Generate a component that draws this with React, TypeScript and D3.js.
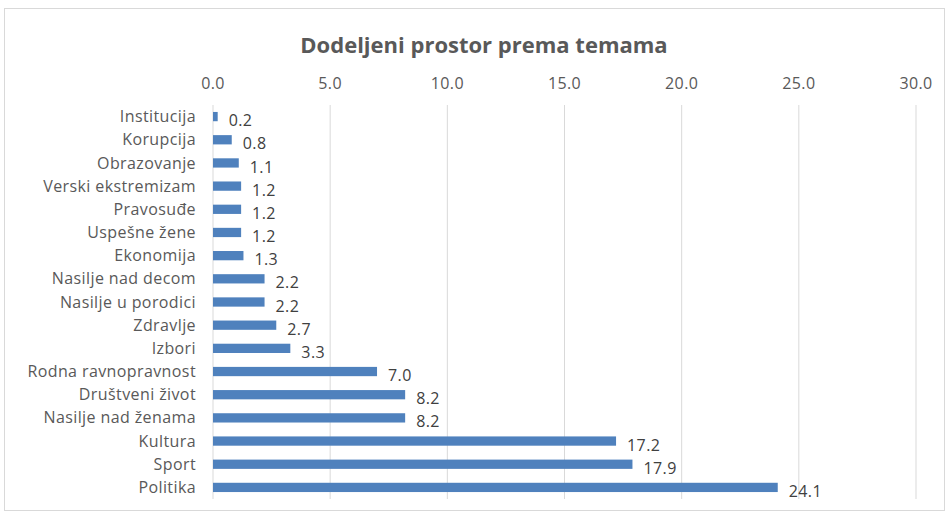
import React from "react";
import * as d3 from "d3";

const categories = [
  "Institucija", "Korupcija", "Obrazovanje", "Verski ekstremizam", "Pravosuđe",
  "Uspešne žene", "Ekonomija", "Nasilje nad decom", "Nasilje u porodici", "Zdravlje",
  "Izbori", "Rodna ravnopravnost", "Društveni život", "Nasilje nad ženama", "Kultura",
  "Sport", "Politika",
];
const values = [0.2, 0.8, 1.1, 1.2, 1.2, 1.2, 1.3, 2.2, 2.2, 2.7, 3.3, 7.0, 8.2, 8.2, 17.2, 17.9, 24.1];
const tickValues = [0, 5, 10, 15, 20, 25, 30];
const title = "Dodeljeni prostor prema temama";

const W = 949, H = 517;
const left = 213, right = 916, top = 105, bottom = 499;
const font = "'Open Sans', 'Noto Sans', sans-serif";

export default function App() {
  const x = d3.scaleLinear().domain([0, 30]).range([left, right]);
  const y = d3.scaleBand<string>().domain(categories).range([top, bottom]).paddingInner(0.6).paddingOuter(0.3);
  return (
    <svg width={W} height={H} style={{ position: "absolute", left: 0, top: 0 }}>
      <rect x={0} y={0} width={W} height={H} fill="#fff" />
      <rect x={4.5} y={8.5} width={940} height={502} fill="none" stroke="#d9d9d9" />
      <text x={484} y={53} textAnchor="middle" fontFamily={font} fontWeight={700} fontSize={22} fill="#595959">{title}</text>
      {tickValues.map((t) => (
        <g key={t}>
          <line x1={x(t)} x2={x(t)} y1={top} y2={bottom} stroke="#d9d9d9" strokeWidth={1} />
          <text x={x(t)} y={89} textAnchor="middle" fontFamily={font} fontSize={16} letterSpacing={0.4} fill="#595959">{d3.format(".1f")(t)}</text>
        </g>
      ))}
      {categories.map((c, i) => {
        const yy = y(c)!;
        const bw = y.bandwidth();
        return (
          <g key={c}>
            <rect x={x(0)} y={yy} width={x(values[i]) - x(0)} height={bw} fill="#4f81bd" />
            <text x={196} y={yy + bw / 2} dy="0.35em" textAnchor="end" fontFamily={font} fontSize={16} letterSpacing={0.4} fill="#595959">{c}</text>
            <text x={x(values[i]) + 11} y={yy + bw / 2 + 4} dy="0.35em" textAnchor="start" fontFamily={font} fontSize={16} letterSpacing={0.4} fill="#404040">{d3.format(".1f")(values[i])}</text>
          </g>
        );
      })}
    </svg>
  );
}
